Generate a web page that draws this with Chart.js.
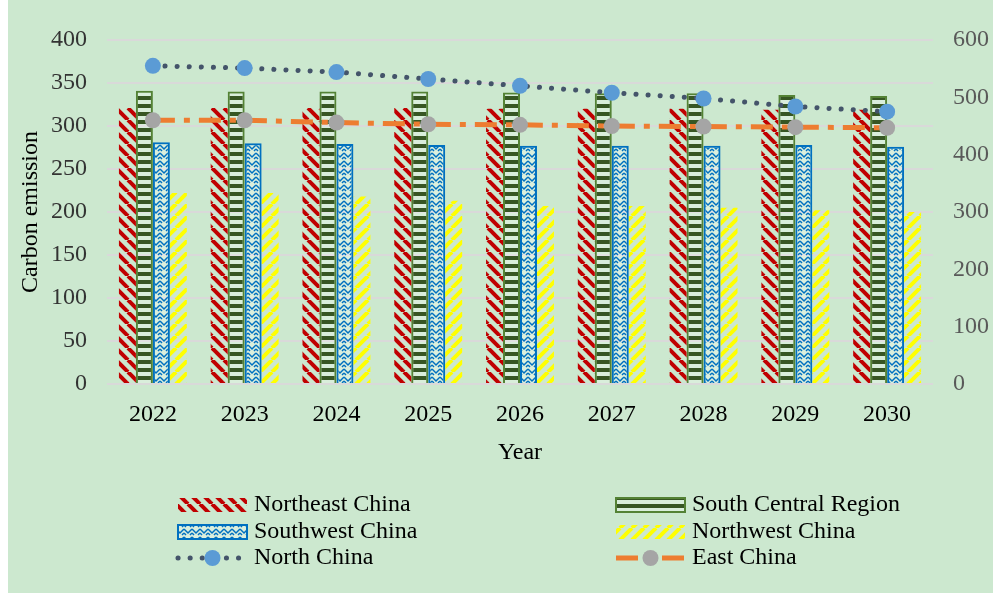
<!DOCTYPE html>
<html>
<head>
<meta charset="utf-8">
<script src="https://cdn.jsdelivr.net/npm/chart.js@4"></script>
<style>
  html, body { margin: 0; padding: 0; background: #ffffff; }
  #wrap { position: absolute; left: 8px; top: 0; width: 985px; height: 593px; background: #CCE8CF; }
</style>
</head>
<body>
<div id="wrap"><canvas id="chart" width="985" height="593"></canvas></div>
<script>
const years = ['2022', '2023', '2024', '2025', '2026', '2027', '2028', '2029', '2030'];
const northeast = [321, 321, 321, 321, 320, 320, 320, 319, 319];
const southCentral = [341, 340, 340, 340, 339, 338, 338, 336, 335];
const southwest = [281, 280, 279, 278, 277, 277, 277, 278, 276];
const northwest = [222, 222, 218, 213, 207, 207, 205, 202, 200];
const northChina = [555, 551, 544, 532, 520, 508, 498, 484, 475];
const eastChina = [460, 460, 456, 453, 452, 450, 449, 448, 447];
const leftTicks = [0, 50, 100, 150, 200, 250, 300, 350, 400];
const rightTicks = [0, 100, 200, 300, 400, 500, 600];

const FONT = 'Liberation Serif';

function makeTile(w, h, draw) {
    const c = document.createElement('canvas');
    c.width = w; c.height = h;
    draw(c.getContext('2d'));
    return document.createElement('canvas').getContext('2d').createPattern(c, 'repeat');
}

// wide downward diagonal, red
const redPattern = makeTile(12, 12, g => {
    g.strokeStyle = '#C00000';
    g.lineWidth = 4;
    for (const k of [-12, 0, 12]) {
        g.beginPath(); g.moveTo(k, 0); g.lineTo(k + 12, 12); g.stroke();
    }
});
// wide upward diagonal, yellow
const yellowPattern = makeTile(12, 12, g => {
    g.strokeStyle = '#FFFF00';
    g.lineWidth = 4;
    for (const k of [-12, 0, 12]) {
        g.beginPath(); g.moveTo(k, 12); g.lineTo(k + 12, 0); g.stroke();
    }
});
// horizontal bricks, green
const greenPattern = makeTile(8, 8, g => {
    g.fillStyle = 'rgba(255,255,255,0.25)';
    g.fillRect(0, 4, 8, 4);
    g.fillStyle = '#375623';
    g.fillRect(0, 0, 8, 4);
});
// zigzag weave, blue
const bluePattern = makeTile(8, 8, g => {
    g.fillStyle = 'rgba(255,255,255,0.3)';
    g.fillRect(0, 0, 8, 8);
    g.strokeStyle = '#0070C0';
    g.lineWidth = 1.5;
    g.beginPath(); g.moveTo(0, 1); g.lineTo(4, 5); g.lineTo(8, 1); g.stroke();
    g.beginPath(); g.moveTo(0, 5); g.lineTo(2, 7); g.moveTo(6, 7); g.lineTo(8, 5); g.stroke();
});

// two-column legend drawn from the datasets
const legendPlugin = {
    id: 'twoColLegend',
    afterDraw(chart) {
        const ctx = chart.ctx;
        const colSym = [170, 608];
        const colText = [246, 684];
        const rowY = [505, 532, 558];
        chart.data.datasets.forEach((ds, i) => {
            const col = i % 2, row = Math.floor(i / 2);
            const x0 = colSym[col], x1 = x0 + 69, y = rowY[row];
            ctx.save();
            if (ds.type === 'line') {
                ctx.strokeStyle = ds.borderColor;
                ctx.lineWidth = ds.borderWidth;
                ctx.lineCap = ds.borderCapStyle || 'butt';
                ctx.setLineDash(ds.borderDash || []);
                ctx.beginPath(); ctx.moveTo(x0, y); ctx.lineTo(x1, y); ctx.stroke();
                ctx.setLineDash([]);
                ctx.fillStyle = ds.pointBackgroundColor;
                ctx.beginPath(); ctx.arc((x0 + x1) / 2, y, ds.pointRadius, 0, Math.PI * 2); ctx.fill();
            } else {
                ctx.fillStyle = ds.backgroundColor;
                ctx.fillRect(x0, y - 7, 69, 14);
                if (ds.borderWidth) {
                    ctx.strokeStyle = ds.borderColor;
                    ctx.lineWidth = ds.borderWidth;
                    ctx.strokeRect(x0, y - 7, 69, 14);
                }
            }
            ctx.fillStyle = '#000000';
            ctx.font = '24px "' + FONT + '"';
            ctx.textBaseline = 'middle';
            ctx.textAlign = 'left';
            ctx.fillText(ds.label, colText[col], y);
            ctx.restore();
        });
    }
};

new Chart(document.getElementById('chart'), {
    data: {
        labels: years,
        datasets: [
            { type: 'bar', label: 'Northeast China', data: northeast, backgroundColor: redPattern, borderWidth: 0, order: 2 },
            { type: 'bar', label: 'South Central Region', data: southCentral, backgroundColor: greenPattern, borderColor: '#548235', borderWidth: 2, order: 2 },
            { type: 'bar', label: 'Southwest China', data: southwest, backgroundColor: bluePattern, borderColor: '#0070C0', borderWidth: 2, order: 2 },
            { type: 'bar', label: 'Northwest China', data: northwest, backgroundColor: yellowPattern, borderWidth: 0, order: 2 },
            {
                type: 'line', label: 'North China', data: northChina, yAxisID: 'y1', order: 0,
                borderColor: '#44546A', borderWidth: 5, borderCapStyle: 'round', borderDash: [0.1, 12],
                pointRadius: 8, pointBackgroundColor: '#5B9BD5', pointBorderWidth: 0, fill: false
            },
            {
                type: 'line', label: 'East China', data: eastChina, yAxisID: 'y1', order: 1,
                borderColor: '#ED7D31', borderWidth: 5, borderDash: [22, 9, 6, 9],
                pointRadius: 8, pointBackgroundColor: '#A5A5A5', pointBorderWidth: 0, fill: false
            }
        ]
    },
    options: {
        responsive: false,
        animation: false,
        layout: { padding: { top: 40, bottom: 119, left: 0, right: 0 } },
        datasets: { bar: { categoryPercentage: 0.74, barPercentage: 1 } },
        plugins: { legend: { display: false }, tooltip: { enabled: false } },
        scales: {
            x: {
                offset: true,
                grid: { display: false },
                border: { display: false },
                ticks: { color: '#000000', font: { family: FONT, size: 24 }, padding: 8 },
                title: { display: true, text: 'Year', color: '#000000', font: { family: FONT, size: 24 }, padding: 7 },
                afterFit(s) { s.height = 90; }
            },
            y: {
                position: 'left',
                min: 0, max: 400,
                afterBuildTicks(s) { s.ticks = leftTicks.map(v => ({ value: v })); },
                grid: { color: '#D9D9D9', lineWidth: 2, drawTicks: false },
                border: { display: false },
                ticks: { color: '#333333', font: { family: FONT, size: 24 }, padding: 20 },
                title: { display: true, text: 'Carbon emission', color: '#000000', font: { family: FONT, size: 24 }, padding: 8 },
                afterFit(s) { s.width = 99; }
            },
            y1: {
                position: 'right',
                min: 0, max: 600,
                afterBuildTicks(s) { s.ticks = rightTicks.map(v => ({ value: v })); },
                grid: { display: false, drawTicks: false },
                border: { display: false },
                ticks: { color: '#595959', font: { family: FONT, size: 24 }, padding: 20 },
                afterFit(s) { s.width = 60; }
            }
        }
    },
    plugins: [legendPlugin]
});
</script>
</body>
</html>
